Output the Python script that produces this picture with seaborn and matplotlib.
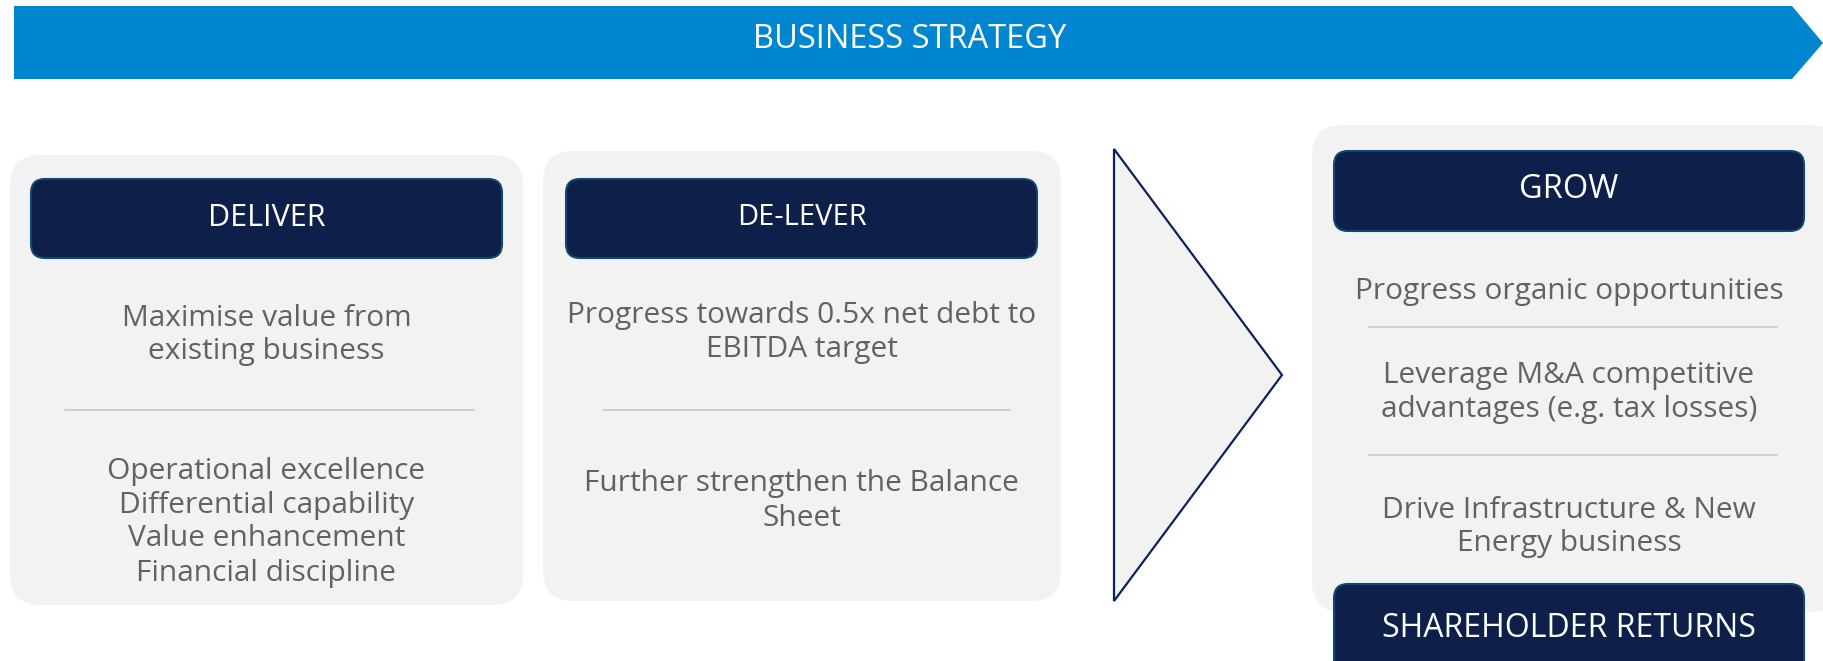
import matplotlib
matplotlib.use("Agg")
import matplotlib.pyplot as plt
from matplotlib.patches import FancyBboxPatch, Polygon
import seaborn as sns

sns.set_theme(style="white")
plt.rcParams['font.family'] = ['Open Sans', 'DejaVu Sans']

# content
banner_title = "BUSINESS STRATEGY"
pillars = ["DELIVER", "DE-LEVER", "GROW"]
pillar_text = [
    [["Maximise value from", "existing business"],
     ["Operational excellence", "Differential capability",
      "Value enhancement", "Financial discipline"]],
    [["Progress towards 0.5x net debt to", "EBITDA target"],
     ["Further strengthen the Balance", "Sheet"]],
    [["Progress organic opportunities"],
     ["Leverage M&A competitive", "advantages (e.g. tax losses)"],
     ["Drive Infrastructure & New", "Energy business"]],
]
footer_title = "SHAREHOLDER RETURNS"

BLUE = "#0086D1"
NAVY = "#0E1F4A"
NAVY_EDGE = "#0B4A6E"
PANEL = "#F2F2F2"
GREY_TXT = "#626262"
RULE = "#C8C8C8"

W, H = 1823, 661
fig = plt.figure(figsize=(W / 100, H / 100), dpi=100)
ax = fig.add_axes([0, 0, 1, 1])
ax.set_xlim(0, W)
ax.set_ylim(H, 0)
ax.axis("off")

# banner arrow
ax.add_patch(Polygon([(14, 6), (1792, 6), (1823, 43), (1792, 79), (14, 79)],
                     closed=True, facecolor=BLUE, edgecolor="none"))
ax.text(910, 39, banner_title, color="white", fontsize=23.5, ha="center", va="center")


def rbox(x0, y0, x1, y1, r, fc, ec="none", lw=0, z=1):
    ax.add_patch(FancyBboxPatch((x0 + r, y0 + r), x1 - x0 - 2 * r, y1 - y0 - 2 * r,
                                boxstyle=f"round,pad={r}", facecolor=fc,
                                edgecolor=ec, linewidth=lw, zorder=z))


def header(x0, y0, x1, y1, label, fs):
    rbox(x0, y0, x1, y1, 14, NAVY, NAVY_EDGE, 1.5, z=3)
    ax.text((x0 + x1) / 2, (y0 + y1) / 2 - 1, label, color="white",
            fontsize=fs, ha="center", va="center", zorder=4)


def lines(cx, y0, rows, step=34):
    for i, s in enumerate(rows):
        ax.text(cx, y0 + i * step, s, color=GREY_TXT, fontsize=21.5,
                ha="center", va="center", zorder=4)


# panel geometry (pixel layout)
panels = [(10, 155, 523, 605), (543, 151, 1061, 601), (1312, 125, 1840, 612)]
heads = [(31, 179, 502, 258), (566, 179, 1037, 258), (1334, 151, 1804, 231)]
head_fs = [22, 21, 23.5]
for (x0, y0, x1, y1), (hx0, hy0, hx1, hy1), lab, fs in zip(panels, heads, pillars, head_fs):
    rbox(x0, y0, x1, y1, 30, PANEL)
    header(hx0, hy0, hx1, hy1, lab, fs)

# DELIVER
c1 = (31 + 502) / 2
lines(c1, 318, pillar_text[0][0])
ax.plot([65, 474], [410, 410], color=RULE, lw=1.2, zorder=4)
lines(c1, 471, pillar_text[0][1])

# DE-LEVER
c2 = (566 + 1037) / 2
lines(c2, 315, pillar_text[1][0])
ax.plot([603, 1010], [410, 410], color=RULE, lw=1.2, zorder=4)
lines(c2, 484, pillar_text[1][1])

# GROW
c3 = (1334 + 1804) / 2
lines(c3, 291, pillar_text[2][0])
ax.plot([1369, 1777], [327, 327], color=RULE, lw=1.2, zorder=4)
lines(c3, 375, pillar_text[2][1])
ax.plot([1369, 1777], [455, 455], color=RULE, lw=1.2, zorder=4)
lines(c3, 510, pillar_text[2][2])

# chevron triangle
ax.add_patch(Polygon([(1114, 149), (1282, 375), (1114, 601)], closed=True,
                     facecolor=PANEL, edgecolor="#0D2160", linewidth=1.6, zorder=2))

# shareholder returns bar
header(1334, 584, 1804, 675, footer_title, 23)

fig.savefig("out.png", dpi=100, facecolor="white")
